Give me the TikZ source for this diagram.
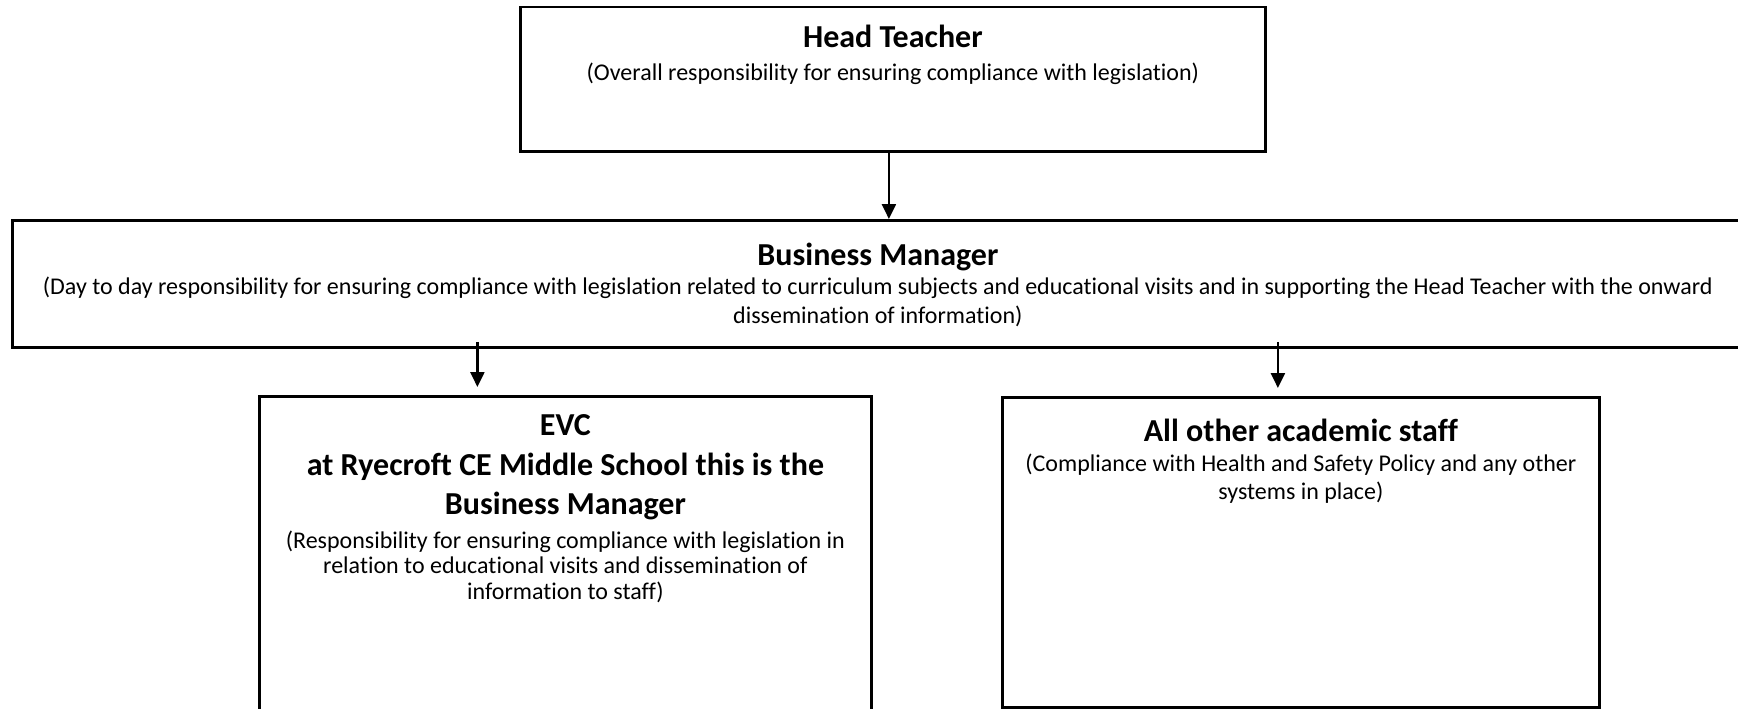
\documentclass[tikz,border=0pt]{standalone}
\usepackage{fontspec}
\setmainfont{Carlito}[Ligatures=NoCommon, RawFeature={-liga;-clig;-calt;-dlig}]
\usetikzlibrary{positioning, arrows.meta}

\tikzset{
  box/.style = {draw, line width=1.4pt, inner sep=0pt, anchor=north west},
  ttl/.style = {font=\bfseries\fontsize{16}{19.9}\selectfont, align=center, inner sep=0pt, anchor=base},
  txt/.style = {font=\fontsize{12}{14.2}\selectfont, align=center, inner sep=0pt, anchor=base},
  link/.style = {-{Triangle[length=7.5pt,width=7pt]}, line width=1.15pt}
}

\begin{document}
\begin{tikzpicture}[x=0.5pt, y=-0.5pt]
\useasboundingbox (0,0) rectangle (1738,708);
\node[box, minimum width=372.5pt, minimum height=72.25pt] (ht) at (519,5.5) {};
\node[box, minimum width=865.5pt, minimum height=63.5pt] (bm) at (11,219) {};
\node[box, minimum width=306pt, minimum height=165pt] (evc) at (258,395) {};
\node[box, minimum width=298.5pt, minimum height=155pt] (ao) at (1001,396) {};

% base of a multi-line node is its last line
\node[ttl] (ht-t) at ([yshift=-20.75pt]ht.north) {Head Teacher};
\node[txt] (ht-b) at ([yshift=-37.5pt]ht.north) {(Overall responsibility for ensuring compliance with legislation)};
\node[ttl] (bm-t) at ([yshift=-23.2pt]bm.north) {Business Manager};
\node[txt] (bm-b) at ([yshift=-52pt]bm.north) {(Day to day responsibility for ensuring compliance with legislation related to curriculum subjects and educational visits and in supporting the Head Teacher with the onward\\dissemination of information)};
\node[ttl] (evc-t) at ([yshift=-59.9pt]evc.north) {EVC\\at Ryecroft CE Middle School this is the\\Business Manager};
\node[txt, font=\fontsize{12}{12.75}\selectfont] (evc-b) at ([yshift=-102pt]evc.north) {(Responsibility for ensuring compliance with legislation in\\relation to educational visits and dissemination of\\information to staff)};
\node[ttl] (ao-t) at ([yshift=-22.8pt]ao.north) {All other academic staff};
\node[txt, font=\fontsize{12}{13.9}\selectfont] (ao-b) at ([yshift=-51.6pt]ao.north) {(Compliance with Health and Safety Policy and any other\\systems in place)};

\draw[link] ([xshift=-2pt]ht.south) -- ([xshift=-2pt]ht.south |- bm.north);
\draw[link, shorten >=4pt] ([xshift=-44pt, yshift=3.5pt]evc.north |- bm.south) -- ([xshift=-44pt]evc.north);
\draw[link, shorten >=4pt] ([xshift=-11.5pt, yshift=3.5pt]ao.north |- bm.south) -- ([xshift=-11.5pt]ao.north);
\end{tikzpicture}
\end{document}
